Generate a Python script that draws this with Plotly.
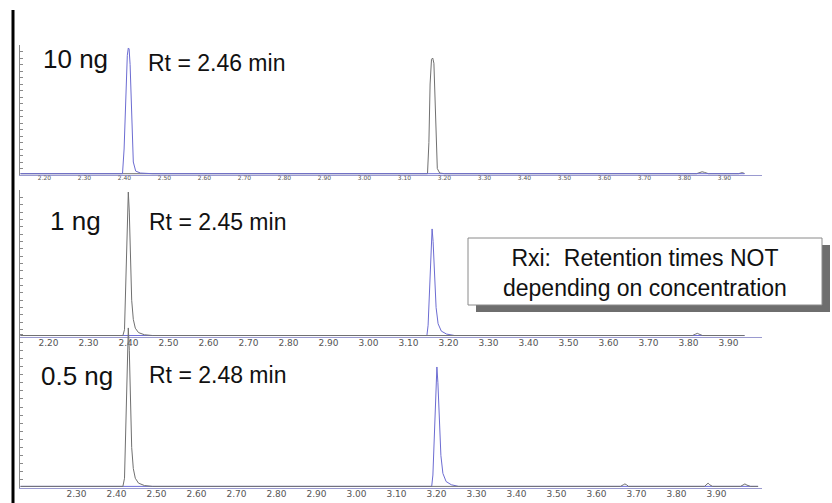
import plotly.graph_objects as go

W, H = 832, 503

# ---------------- data ----------------
amount_labels = ["10 ng", "1 ng", "0.5 ng"]
rt_labels = ["Rt = 2.46 min", "Rt = 2.45 min", "Rt = 2.48 min"]
rt_first = [2.46, 2.45, 2.48]

tick_vals = [2.20, 2.30, 2.40, 2.50, 2.60, 2.70, 2.80, 2.90, 3.00,
             3.10, 3.20, 3.30, 3.40, 3.50, 3.60, 3.70, 3.80, 3.90]
tick_text = ["2.20", "2.30", "2.40", "2.50", "2.60", "2.70", "2.80", "2.90", "3.00",
             "3.10", "3.20", "3.30", "3.40", "3.50", "3.60", "3.70", "3.80", "3.90"]

# panel 1 (10 ng)
p1_blue_t = [2.19, 2.445, 2.449, 2.453, 2.457, 2.4595, 2.4615, 2.464, 2.468, 2.472, 2.478, 2.49, 2.52, 4.0]
p1_blue_y = [1, 1, 20, 60, 92, 97.7, 97, 85, 40, 10, 3, 1.5, 1, 1]
p1_gray_t = [2.19, 3.2075, 3.211, 3.214, 3.2175, 3.2205, 3.2235, 3.226, 3.229, 3.232, 3.238, 3.25,
             3.88, 3.89, 3.894, 3.90, 3.91, 3.985, 3.994, 4.0]
p1_gray_y = [1, 1, 25, 70, 89, 90, 86, 60, 20, 5, 1.5, 1,
             1, 2, 2.5, 2, 1, 1, 1.8, 1.2]

# panel 2 (1 ng)
p2_gray_t = [2.18, 2.436, 2.440, 2.444, 2.447, 2.4495, 2.452, 2.455, 2.458, 2.462, 2.467, 2.475, 2.49, 2.51,
             3.86, 3.868, 3.872, 3.876, 3.885, 3.99]
p2_gray_y = [1, 1, 5, 40, 80, 98.6, 85, 50, 25, 12, 6, 3, 1.5, 1,
             1, 2, 2.5, 2, 1, 1]
p2_blue_t = [2.18, 3.196, 3.199, 3.202, 3.206, 3.209, 3.2115, 3.215, 3.219, 3.224, 3.232, 3.245, 3.265, 3.99]
p2_blue_y = [1, 1, 8, 30, 60, 73.5, 65, 40, 20, 9, 4, 2, 1, 1]

# panel 3 (0.5 ng)
p3_gray_t = [2.21, 2.466, 2.470, 2.474, 2.477, 2.4795, 2.482, 2.485, 2.488, 2.492, 2.497, 2.505, 2.52, 2.54,
             3.71, 3.717, 3.721, 3.725, 3.73, 3.92, 3.926, 3.929, 3.933, 3.94,
             4.01, 4.016, 4.021, 4.026, 4.035, 4.054]
p3_gray_y = [1, 1, 6, 40, 80, 98.8, 85, 50, 25, 12, 6, 3, 1.5, 1,
             1, 2, 2.5, 2, 1, 1, 2, 3, 2, 1,
             1, 1.8, 2.5, 1.8, 1, 1]
p3_blue_t = [2.21, 3.238, 3.241, 3.244, 3.248, 3.251, 3.2535, 3.257, 3.261, 3.266, 3.274, 3.287, 3.305, 4.054]
p3_blue_y = [1, 1, 8, 30, 60, 74.7, 65, 40, 20, 9, 4, 2, 1, 1]

box_text = "Rxi:\u00a0 Retention times NOT<br>depending on concentration"

# ---------------- layout helpers ----------------
PL, PR = 20, 762          # plot area left/right in px
PXPM = 400.0              # px per minute
APEX_PX = 128.5           # where first peak sits


def px_x(px):
    return (px - PL) / (PR - PL)


def px_y(py):
    return (H - py) / H


BLUE = "#6c6cd2"
GRAY = "#707070"

panel_px = [(45, 175), (190, 337), (326, 488)]   # (top for y=100, baseline)
tick_sizes = [6, 9, 9]
traces = [
    [(p1_gray_t, p1_gray_y, GRAY), (p1_blue_t, p1_blue_y, BLUE)],
    [(p2_blue_t, p2_blue_y, BLUE), (p2_gray_t, p2_gray_y, GRAY)],
    [(p3_blue_t, p3_blue_y, BLUE), (p3_gray_t, p3_gray_y, GRAY)],
]

fig = go.Figure()
FONT = "Liberation Sans, Arial, sans-serif"

for i in range(3):
    sfx = "" if i == 0 else str(i + 1)
    for t, y, c in traces[i]:
        fig.add_trace(go.Scatter(x=t, y=y, mode="lines", line=dict(color=c, width=1),
                                 xaxis="x" + sfx, yaxis="y" + sfx,
                                 hoverinfo="skip", showlegend=False))
    rt = rt_first[i]
    x0 = rt - (APEX_PX - PL) / PXPM
    x1 = rt + (PR - APEX_PX) / PXPM
    top, base = panel_px[i]
    fig.layout["xaxis" + sfx] = dict(
        domain=[0, 1], range=[x0, x1], anchor="y" + sfx,
        showgrid=False, zeroline=False, showline=True, linecolor="#9a9ad0", linewidth=1,
        ticks="", tickvals=tick_vals, ticktext=tick_text,
        tickfont=dict(family="DejaVu Sans, sans-serif", size=tick_sizes[i], color="#555"),
        ticklabelshift=20, ticklabelstandoff=-3, automargin=False,
    )
    fig.layout["yaxis" + sfx] = dict(
        domain=[px_y(base), px_y(top)], range=[0, 100], anchor="x" + sfx,
        showgrid=False, zeroline=False, showline=True, linecolor="#8a8a8a", linewidth=1,
        ticks="inside", ticklen=3, tickcolor="#8a8a8a", dtick=5,
        showticklabels=False, automargin=False,
    )

annos = []
amt_pos = [(41, 59), (48, 221), (39, 376)]
rt_pos = [(146, 63), (147, 222), (147, 375)]
for i in range(3):
    annos.append(dict(text=amount_labels[i], xref="paper", yref="paper",
                      x=px_x(amt_pos[i][0]), y=px_y(amt_pos[i][1]),
                      xanchor="left", yanchor="middle", showarrow=False,
                      font=dict(family=FONT, size=26, color="#111")))
    annos.append(dict(text=rt_labels[i], xref="paper", yref="paper",
                      x=px_x(rt_pos[i][0]), y=px_y(rt_pos[i][1]),
                      xanchor="left", yanchor="middle", showarrow=False,
                      font=dict(family=FONT, size=23, color="#111")))
annos.append(dict(text=box_text, xref="paper", yref="paper",
                  x=px_x(645), y=px_y(272.5), xanchor="center", yanchor="middle",
                  align="center", showarrow=False,
                  font=dict(family=FONT, size=23, color="#111")))

shapes = [
    dict(type="line", xref="paper", yref="paper", x0=px_x(13), x1=px_x(13),
         y0=px_y(10), y1=px_y(503), line=dict(color="black", width=3)),
    dict(type="rect", xref="paper", yref="paper", x0=px_x(476), x1=px_x(830),
         y0=px_y(312), y1=px_y(245), fillcolor="rgba(85,85,85,0.85)", line=dict(width=0)),
    dict(type="rect", xref="paper", yref="paper", x0=px_x(468), x1=px_x(822),
         y0=px_y(305), y1=px_y(238), fillcolor="white", line=dict(color="#8a8a8a", width=1)),
]

fig.update_layout(
    width=W, height=H,
    margin=dict(l=PL, r=W - PR, t=0, b=0, pad=0),
    paper_bgcolor="white", plot_bgcolor="rgba(0,0,0,0)",
    annotations=annos, shapes=shapes, showlegend=False,
)

fig.write_html("out.html")
